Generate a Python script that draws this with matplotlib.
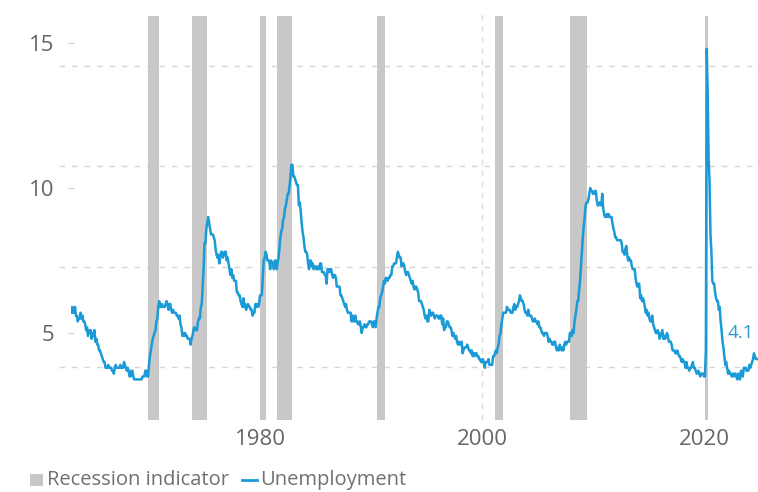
import numpy as np
import matplotlib
matplotlib.use("Agg")
import matplotlib.pyplot as plt
from matplotlib.patches import Rectangle
from matplotlib.lines import Line2D

# ---------------- data ----------------
start_year = 1963  # monthly series, first value = Jan 1963
u_1960s = [5.7, 5.9, 5.7, 5.7, 5.9, 5.6, 5.6, 5.4, 5.5, 5.5, 5.7, 5.5,
           5.6, 5.4, 5.4, 5.3, 5.1, 5.2, 4.9, 5.0, 5.1, 5.1, 4.8, 5.0,
           4.9, 5.1, 4.7, 4.8, 4.6, 4.6, 4.4, 4.4, 4.3, 4.2, 4.1, 4.0,
           4.0, 3.8, 3.8, 3.8, 3.9, 3.8, 3.8, 3.8, 3.7, 3.7, 3.6, 3.8,
           3.9, 3.8, 3.8, 3.8, 3.8, 3.9, 3.8, 3.8, 3.8, 4.0, 3.9, 3.8,
           3.7, 3.8, 3.7, 3.5, 3.5, 3.7, 3.7, 3.5, 3.4, 3.4, 3.4, 3.4,
           3.4, 3.4, 3.4, 3.4, 3.4, 3.5, 3.5, 3.5, 3.7, 3.7, 3.5, 3.5]
u_1970s = [3.9, 4.2, 4.4, 4.6, 4.8, 4.9, 5.0, 5.1, 5.4, 5.5, 5.9, 6.1,
           5.9, 5.9, 6.0, 5.9, 5.9, 5.9, 6.0, 6.1, 6.0, 5.8, 6.0, 6.0,
           5.8, 5.7, 5.8, 5.7, 5.7, 5.7, 5.6, 5.6, 5.5, 5.6, 5.3, 5.2,
           4.9, 5.0, 4.9, 5.0, 4.9, 4.9, 4.8, 4.8, 4.8, 4.6, 4.8, 4.9,
           5.1, 5.2, 5.1, 5.1, 5.1, 5.4, 5.5, 5.5, 5.9, 6.0, 6.6, 7.2,
           8.1, 8.1, 8.6, 8.8, 9.0, 8.8, 8.6, 8.4, 8.4, 8.4, 8.3, 8.2,
           7.9, 7.7, 7.6, 7.7, 7.4, 7.6, 7.8, 7.8, 7.6, 7.7, 7.8, 7.8,
           7.5, 7.6, 7.4, 7.2, 7.0, 7.2, 6.9, 7.0, 6.8, 6.8, 6.8, 6.4,
           6.4, 6.3, 6.3, 6.1, 6.0, 5.9, 6.2, 5.9, 6.0, 5.8, 5.9, 6.0,
           5.9, 5.9, 5.8, 5.8, 5.6, 5.7, 5.7, 6.0, 5.9, 6.0, 5.9, 6.0]
u_1980s = [6.3, 6.3, 6.3, 6.9, 7.5, 7.6, 7.8, 7.7, 7.5, 7.5, 7.5, 7.2,
           7.5, 7.4, 7.4, 7.2, 7.5, 7.5, 7.2, 7.4, 7.6, 7.9, 8.3, 8.5,
           8.6, 8.9, 9.0, 9.3, 9.4, 9.6, 9.8, 9.8, 10.1, 10.4, 10.8, 10.8,
           10.4, 10.4, 10.3, 10.2, 10.1, 10.1, 9.4, 9.5, 9.2, 8.8, 8.5, 8.3,
           8.0, 7.8, 7.8, 7.7, 7.4, 7.2, 7.5, 7.5, 7.3, 7.4, 7.2, 7.3,
           7.3, 7.2, 7.2, 7.3, 7.2, 7.4, 7.4, 7.1, 7.1, 7.1, 7.0, 7.0,
           6.7, 7.2, 7.2, 7.1, 7.2, 7.2, 7.0, 6.9, 7.0, 7.0, 6.9, 6.6,
           6.6, 6.6, 6.6, 6.3, 6.3, 6.2, 6.1, 6.0, 5.9, 6.0, 5.8, 5.7,
           5.7, 5.7, 5.7, 5.4, 5.6, 5.4, 5.4, 5.6, 5.4, 5.4, 5.3, 5.3,
           5.4, 5.2, 5.0, 5.2, 5.2, 5.3, 5.2, 5.2, 5.3, 5.3, 5.4, 5.4]
u_1990s = [5.4, 5.3, 5.2, 5.4, 5.4, 5.2, 5.5, 5.7, 5.9, 5.9, 6.2, 6.3,
           6.4, 6.6, 6.8, 6.7, 6.9, 6.9, 6.8, 6.9, 6.9, 7.0, 7.0, 7.3,
           7.3, 7.4, 7.4, 7.4, 7.6, 7.8, 7.7, 7.6, 7.6, 7.3, 7.4, 7.4,
           7.3, 7.1, 7.0, 7.1, 7.1, 7.0, 6.9, 6.8, 6.7, 6.8, 6.6, 6.5,
           6.6, 6.6, 6.5, 6.4, 6.1, 6.1, 6.1, 6.0, 5.9, 5.8, 5.6, 5.5,
           5.6, 5.4, 5.4, 5.8, 5.6, 5.6, 5.7, 5.7, 5.6, 5.5, 5.6, 5.6,
           5.6, 5.5, 5.5, 5.6, 5.6, 5.3, 5.5, 5.1, 5.2, 5.2, 5.4, 5.4,
           5.3, 5.2, 5.2, 5.1, 4.9, 5.0, 4.9, 4.8, 4.9, 4.7, 4.6, 4.7,
           4.6, 4.6, 4.7, 4.3, 4.4, 4.5, 4.5, 4.5, 4.6, 4.5, 4.4, 4.4,
           4.3, 4.4, 4.2, 4.3, 4.2, 4.3, 4.3, 4.2, 4.2, 4.1, 4.1, 4.0]
u_2000s = [4.0, 4.1, 4.0, 3.8, 4.0, 4.0, 4.0, 4.1, 3.9, 3.9, 3.9, 3.9,
           4.2, 4.2, 4.3, 4.4, 4.3, 4.5, 4.6, 4.9, 5.0, 5.3, 5.5, 5.7,
           5.7, 5.7, 5.7, 5.9, 5.8, 5.8, 5.8, 5.7, 5.7, 5.7, 5.9, 6.0,
           5.8, 5.9, 5.9, 6.0, 6.1, 6.3, 6.2, 6.1, 6.1, 6.0, 5.8, 5.7,
           5.7, 5.6, 5.8, 5.6, 5.6, 5.6, 5.5, 5.4, 5.4, 5.5, 5.4, 5.4,
           5.3, 5.4, 5.2, 5.2, 5.1, 5.0, 5.0, 4.9, 5.0, 5.0, 5.0, 4.9,
           4.7, 4.8, 4.7, 4.7, 4.6, 4.6, 4.7, 4.7, 4.5, 4.4, 4.5, 4.4,
           4.6, 4.5, 4.4, 4.5, 4.4, 4.6, 4.7, 4.6, 4.7, 4.7, 4.7, 5.0,
           5.0, 4.9, 5.1, 5.0, 5.4, 5.6, 5.8, 6.1, 6.1, 6.5, 6.8, 7.3,
           7.8, 8.3, 8.7, 9.0, 9.4, 9.5, 9.5, 9.6, 9.8, 10.0, 9.9, 9.9]
u_2010s = [9.8, 9.8, 9.9, 9.9, 9.6, 9.4, 9.4, 9.5, 9.5, 9.4, 9.8, 9.3,
           9.1, 9.0, 9.0, 9.1, 9.0, 9.1, 9.0, 9.0, 9.0, 8.8, 8.6, 8.5,
           8.3, 8.3, 8.2, 8.2, 8.2, 8.2, 8.2, 8.1, 7.8, 7.8, 7.7, 7.9,
           8.0, 7.7, 7.5, 7.6, 7.5, 7.5, 7.3, 7.2, 7.2, 7.2, 6.9, 6.7,
           6.6, 6.7, 6.7, 6.2, 6.3, 6.1, 6.2, 6.1, 5.9, 5.7, 5.8, 5.6,
           5.7, 5.5, 5.4, 5.4, 5.6, 5.3, 5.2, 5.1, 5.0, 5.0, 5.1, 5.0,
           4.8, 4.9, 5.0, 5.1, 4.8, 4.9, 4.8, 4.9, 5.0, 4.9, 4.7, 4.7,
           4.7, 4.6, 4.4, 4.4, 4.4, 4.3, 4.3, 4.4, 4.3, 4.2, 4.2, 4.1,
           4.0, 4.1, 4.0, 4.0, 3.8, 4.0, 3.8, 3.8, 3.7, 3.8, 3.8, 3.9,
           4.0, 3.8, 3.8, 3.7, 3.6, 3.6, 3.7, 3.6, 3.5, 3.6, 3.6, 3.6]
u_2020s = [3.5, 3.5, 4.4, 14.8, 13.2, 11.0, 10.2, 8.4, 7.8, 6.8, 6.7, 6.7,
           6.4, 6.2, 6.1, 6.1, 5.8, 5.9, 5.4, 5.1, 4.7, 4.5, 4.2, 3.9,
           4.0, 3.8, 3.6, 3.7, 3.6, 3.6, 3.5, 3.6, 3.5, 3.6, 3.6, 3.5,
           3.4, 3.6, 3.5, 3.4, 3.7, 3.6, 3.5, 3.8, 3.8, 3.8, 3.7, 3.7,
           3.7, 3.9, 3.8, 3.9, 4.0, 4.1, 4.3, 4.2, 4.1, 4.1]

unemployment = np.array(u_1960s + u_1970s + u_1980s + u_1990s + u_2000s + u_2010s + u_2020s)
dates = start_year + np.arange(len(unemployment)) / 12.0

# NBER recessions (decimal years, start / end)
rec_start = [1969.92, 1973.83, 1980.00, 1981.50, 1990.50, 2001.17, 2007.92, 2020.08]
rec_end = [1970.92, 1975.25, 1980.58, 1982.92, 1991.25, 2001.92, 2009.50, 2020.33]

x_ticks = [1980, 2000, 2020]
y_ticks = [5, 10, 15]
grid_levels = [14.22, 10.77, 7.29, 3.84]
last_label = "4.1"

# ---------------- style ----------------
plt.rcParams['font.family'] = ['Open Sans', 'DejaVu Sans']
LINE_C = '#1a9ad6'
BAR_C = '#c8c8c8'
TXT_C = '#666666'

W, H = 758, 492
fig = plt.figure(figsize=(W / 100, H / 100), dpi=100)
fig.patch.set_facecolor('white')

ax_left_px, ax_right_px = 71.3, 758
ax_top_px, ax_bot_px = 14, 420
ax = fig.add_axes([ax_left_px / W, 1 - ax_bot_px / H,
                   (ax_right_px - ax_left_px) / W, (ax_bot_px - ax_top_px) / H])
ax.set_xlim(1963.0, 1963.0 + (ax_right_px - ax_left_px) / 11.1)
ax.set_ylim(2.0, 16.0)

for s in ax.spines.values():
    s.set_visible(False)

# dashed horizontal grid (offset from ticks, as in reference)
for g in grid_levels:
    ax.plot([1961.9, 2030], [g, g], color='#d6d6d6', lw=1.0,
            ls=(0, (4, 5)), clip_on=False, zorder=0)
# dashed vertical line at 2000
ax.axvline(2000, color='#dcdcdc', lw=1.0, ls=(0, (4, 4)), zorder=0)

# recession bars
for s0, s1 in zip(rec_start, rec_end):
    ax.axvspan(s0, s1, ymin=0.0, ymax=0.995, color=BAR_C, lw=0, zorder=1)

# unemployment line
ax.plot(dates, unemployment, color=LINE_C, lw=1.8, zorder=3,
        solid_joinstyle='round')

# last value label
ax.annotate(last_label, xy=(dates[-1], unemployment[-1]), xytext=(-11.5, 19),
            textcoords='offset points', ha='center', va='center',
            fontsize=13.5, color='#2b9cc9', annotation_clip=False)

ax.set_xticks(x_ticks)
ax.set_xticklabels([str(v) for v in x_ticks])
ax.set_yticks(y_ticks)
ax.set_yticklabels([str(v) for v in y_ticks])
ax.tick_params(axis='x', length=0, pad=6.5, labelsize=16, labelcolor=TXT_C)
ax.tick_params(axis='y', direction='inout', length=5, width=0.8, color='#d0d0d0',
               pad=10, labelsize=16, labelcolor=TXT_C)

# legend (manual)
fig.patches.append(Rectangle((30 / W, 1 - 486 / H), 13 / W, 12 / H,
                             transform=fig.transFigure, color=BAR_C, lw=0))
fig.text(47 / W, 1 - 480 / H, "Recession indicator", fontsize=14.5,
         color='#707070', ha='left', va='center')
fig.lines.append(Line2D([242 / W, 257 / W], [1 - 480 / H, 1 - 480 / H],
                        transform=fig.transFigure, color=LINE_C, lw=2))
fig.text(260 / W, 1 - 480 / H, "Unemployment", fontsize=14.5,
         color='#707070', ha='left', va='center')

fig.savefig('out.png', dpi=100, facecolor='white')
